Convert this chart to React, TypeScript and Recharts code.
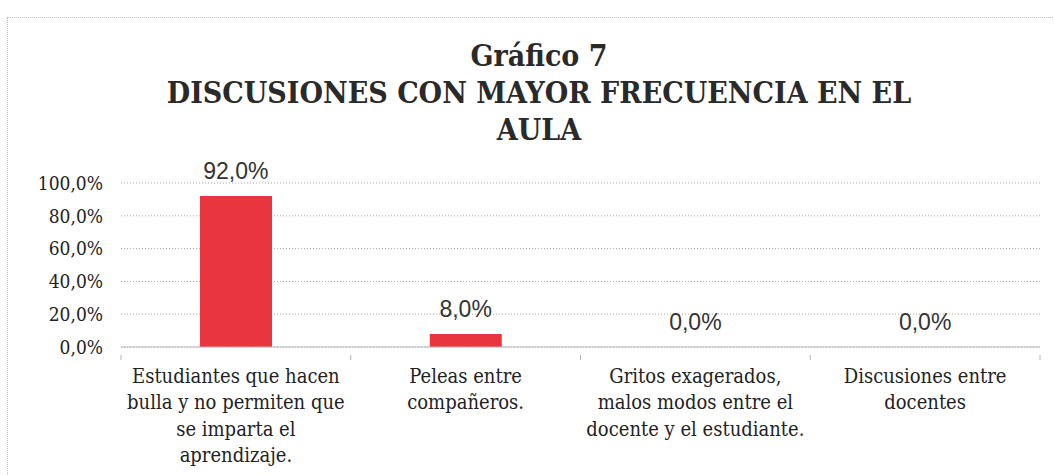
import { ComposedChart, Bar, Line, XAxis, YAxis, CartesianGrid, LabelList } from "recharts";

const categories = [
  "Estudiantes que hacen bulla y no permiten que se imparta el aprendizaje.",
  "Peleas entre compañeros.",
  "Gritos exagerados, malos modos entre el docente y el estudiante.",
  "Discusiones entre docentes",
];
// line breaks as they appear under each bar
const categoryLines = [
  ["Estudiantes que hacen", "bulla y no permiten que", "se imparta el", "aprendizaje."],
  ["Peleas entre", "compañeros."],
  ["Gritos exagerados,", "malos modos entre el", "docente y el estudiante."],
  ["Discusiones entre", "docentes"],
];
const values = [0.92, 0.08, 0, 0];
const yTicks = [0, 0.2, 0.4, 0.6, 0.8, 1];
const titleLines = ["Gráfico 7", "DISCUSIONES CON MAYOR FRECUENCIA EN EL", "AULA"];

const data = categories.map((name, i) => ({ name, value: values[i] }));

const pct = (v: number) => `${(v * 100).toFixed(1).replace(".", ",")}%`;

const serif = "DejaVu Serif Condensed, DejaVu Serif";
const sans = "Liberation Sans, Arial, sans-serif";

function CategoryTick(props: any) {
  const { x, y, payload, index } = props;
  const half = payload?.offset ?? 115;
  const lines = categoryLines[index] ?? [String(payload.value)];
  return (
    <g>
      <line x1={x - half} y1={y} x2={x - half} y2={y + 5} stroke="#b5b5b5" />
      {index === categories.length - 1 && (
        <line x1={x + half} y1={y} x2={x + half} y2={y + 5} stroke="#b5b5b5" />
      )}
      <text x={x} y={y + 28} textAnchor="middle" fontFamily={serif} fontSize={20} fill="#222">
        {lines.map((l, i) => (
          <tspan key={i} x={x} dy={i === 0 ? 0 : 26.3}>
            {l}
          </tspan>
        ))}
      </text>
    </g>
  );
}

export default function App() {
  return (
    <div
      style={{
        position: "absolute",
        top: 0,
        left: 0,
        width: 1054,
        height: 475,
        overflow: "hidden",
        background: "#fff",
      }}
    >
      <div
        style={{
          position: "absolute",
          left: 7,
          top: 17,
          width: 1100,
          height: 600,
          border: "1px dotted #bdbdbd",
        }}
      />
      <div
        style={{
          position: "absolute",
          left: 0,
          top: 37,
          width: 1078,
          textAlign: "center",
          fontFamily: serif,
          fontWeight: "bold",
          fontSize: 30,
          lineHeight: "37px",
          color: "#2a2a2a",
        }}
      >
        {titleLines.map((t, i) => (
          <div key={i}>{t}</div>
        ))}
      </div>
      <div style={{ position: "absolute", left: 0, top: 0 }}>
        <ComposedChart
          width={1054}
          height={475}
          data={data}
          margin={{ top: 183, right: 14, bottom: 0, left: 0 }}
        >
          <CartesianGrid vertical={false} stroke="#a8a8a8" strokeDasharray="1 2" />
          <XAxis
            dataKey="name"
            height={128}
            interval={0}
            stroke="#b5b5b5"
            tickLine={false}
            tick={<CategoryTick />}
          />
          <YAxis
            width={121}
            domain={[0, 1]}
            ticks={yTicks}
            tickFormatter={pct}
            axisLine={false}
            tickLine={false}
            tickSize={0}
            tickMargin={18}
            tick={{ fontFamily: serif, fontSize: 19, fill: "#222" }}
          />
          <Bar dataKey="value" fill="#e9353f" barSize={72} isAnimationActive={false} />
          {/* invisible line only carries the value labels, so 0,0% shows too */}
          <Line
            dataKey="value"
            stroke="none"
            dot={false}
            activeDot={false}
            isAnimationActive={false}
          >
            <LabelList
              dataKey="value"
              position="top"
              offset={17}
              formatter={(v: any) => pct(Number(v))}
              style={{ fontFamily: sans, fontSize: 23, fill: "#333" }}
            />
          </Line>
        </ComposedChart>
      </div>
    </div>
  );
}
